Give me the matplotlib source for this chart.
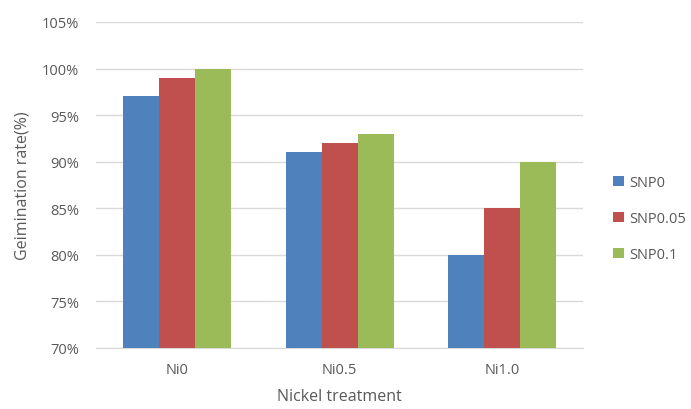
import numpy as np
import matplotlib.pyplot as plt
from matplotlib.ticker import FuncFormatter

treatments = ['Ni0', 'Ni0.5', 'Ni1.0']
series_names = ['SNP0', 'SNP0.05', 'SNP0.1']
snp0 = [97, 91, 80]
snp005 = [99, 92, 85]
snp01 = [100, 93, 90]
colors = ['#4f81bd', '#c0504d', '#9bbb59']

plt.rcParams['font.family'] = ['Open Sans', 'DejaVu Sans']
txt = '#595959'

fig = plt.figure(figsize=(6.91, 4.10), dpi=100)
ax = fig.add_axes([0.139, 0.149, 0.705, 0.795])

x = np.arange(len(treatments))
w = 0.222
for i, (vals, name) in enumerate(zip([snp0, snp005, snp01], series_names)):
    ax.bar(x + (i - 1) * w, np.array(vals) - 70, bottom=70, width=w,
           color=colors[i], label=name, zorder=3)

ax.set_xlim(-0.5, 2.5)
ax.set_ylim(70, 105)
ax.set_yticks(np.arange(70, 106, 5))
ax.yaxis.set_major_formatter(FuncFormatter(lambda v, p: '%d%%' % v))
ax.set_xticks(x)
ax.set_xticklabels(treatments)
ax.grid(axis='y', color='#d9d9d9', linewidth=1, zorder=0)
for s in ['top', 'right', 'left']:
    ax.spines[s].set_visible(False)
ax.spines['bottom'].set_color('#d9d9d9')
ax.tick_params(length=0, colors=txt, labelsize=10.5)
ax.tick_params(axis='y', pad=12)
ax.tick_params(axis='x', pad=10)

ax.set_ylabel('Geimination rate(%)', color=txt, fontsize=11.5, labelpad=8)
ax.set_xlabel('Nickel treatment', color=txt, fontsize=11.5, labelpad=8)

leg = ax.legend(loc='center left', bbox_to_anchor=(1.035, 0.396), frameon=False,
                handlelength=0.7, handleheight=0.7, handletextpad=0.4,
                labelspacing=1.45, fontsize=10.5)
for t in leg.get_texts():
    t.set_color(txt)

fig.savefig('out.png', dpi=100)
